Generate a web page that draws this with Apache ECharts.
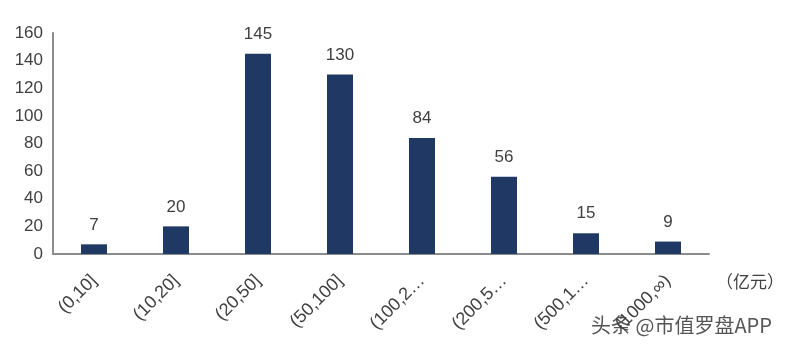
<!DOCTYPE html>
<html><head><meta charset="utf-8">
<script src="https://cdn.jsdelivr.net/npm/echarts@6/dist/echarts.min.js"></script>
<style>html,body{margin:0;padding:0;background:#fff}#c{width:789px;height:350px}</style>
</head><body><div id="c"></div>
<script>
const categories = ["(0,10]", "(10,20]", "(20,50]", "(50,100]", "(100,200]", "(200,500]", "(500,1000]", "(1000,∞)"];
const counts = [7, 20, 145, 130, 84, 56, 15, 9];
const yTicks = { min: 0, max: 160, interval: 20 };
const unitLabel = "（亿元）";
const watermark = "头条 @市值罗盘APP";

const font = "'Liberation Sans', Arial, sans-serif";
const chart = echarts.init(document.getElementById('c'));
chart.setOption({
  animation: false,
  grid: { left: 53, right: 80, top: 33, bottom: 96 },
  xAxis: {
    type: 'category', data: categories,
    axisLine: { lineStyle: { color: '#8c8c8c', width: 2 } },
    axisTick: { show: false },
    axisLabel: {
      rotate: 45, interval: 0, margin: 24,
      color: '#404040', fontSize: 18, fontFamily: font,
      width: 75, overflow: 'truncate', ellipsis: '…'
    }
  },
  yAxis: {
    type: 'value', min: yTicks.min, max: yTicks.max, interval: yTicks.interval,
    axisLine: { show: true, lineStyle: { color: '#8c8c8c', width: 2 } },
    axisTick: { show: false },
    splitLine: { show: false },
    axisLabel: { color: '#404040', fontSize: 17, fontFamily: font, margin: 10 }
  },
  series: [{
    type: 'bar', data: counts, barWidth: 26,
    itemStyle: { color: '#1f3864' },
    label: { show: true, position: 'top', distance: 11, color: '#404040', fontSize: 17, fontFamily: font }
  }],
  graphic: [
    { type: 'text', left: 716, top: 273, style: { text: unitLabel, fill: '#404040', font: "17px 'Noto Sans CJK SC', sans-serif" } },
    { type: 'text', left: 590, top: 314, style: { text: watermark, fill: '#555', stroke: '#fff', lineWidth: 2, font: "20px 'Noto Sans CJK SC', sans-serif" } }
  ]
});
</script></body></html>
